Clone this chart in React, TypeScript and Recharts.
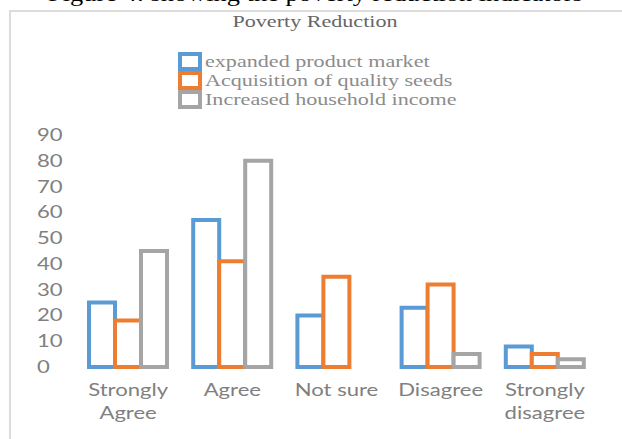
import { BarChart, Bar, XAxis, YAxis, Legend } from "recharts";

const categories = ["Strongly\nAgree", "Agree", "Not sure", "Disagree", "Strongly\ndisagree"];
const expandedMarket = [25, 57, 20, 23, 8];
const qualitySeeds = [18, 41, 35, 32, 5];
const householdIncome = [45, 80, 0, 5, 3];
const yTicks = [0, 10, 20, 30, 40, 50, 60, 70, 80, 90];

const seriesNames = [
  "expanded product market",
  "Acquisition of quality seeds",
  "Increased household income",
];
const seriesColors = ["#5b9bd5", "#ed7d31", "#a5a5a5"];

const data = categories.map((category, i) => ({
  category,
  market: expandedMarket[i],
  seeds: qualitySeeds[i],
  income: householdIncome[i],
}));

const AXIS_FONT = "Lato, 'Open Sans', sans-serif";
const SERIF = "'Liberation Serif', 'DejaVu Serif', serif";
const STRETCH = 1.3;

function XTick({ x, y, payload }: any) {
  const lines = String(payload.value).split("\n");
  return (
    <g transform={`translate(${x},${y})`}>
      <text
        textAnchor="middle"
        fill="#808080"
        fontSize={17}
        fontFamily={AXIS_FONT}
        transform={`scale(${STRETCH},1)`}
      >
        {lines.map((line, i) => (
          <tspan key={i} x={0} dy={i === 0 ? 29 : 23}>
            {line}
          </tspan>
        ))}
      </text>
    </g>
  );
}

function YTick({ x, y, payload }: any) {
  return (
    <g transform={`translate(${x},${y})`}>
      <text
        textAnchor="start"
        dy={6}
        fill="#808080"
        fontSize={17}
        fontFamily={AXIS_FONT}
        transform={`scale(${STRETCH},1)`}
      >
        {payload.value}
      </text>
    </g>
  );
}

function LegendBox({ payload }: any) {
  // keep the series order, recharts sorts the payload by name
  const items = [...(payload ?? [])].sort(
    (a: any, b: any) => seriesNames.indexOf(a.value) - seriesNames.indexOf(b.value)
  );
  return (
    <div>
      {items.map((item: any) => (
        <div key={item.value} style={{ display: "flex", alignItems: "center", height: 19 }}>
          <div
            style={{
              boxSizing: "border-box",
              width: 24,
              height: 19,
              border: `4px solid ${seriesColors[seriesNames.indexOf(item.value)]}`,
              background: "#fff",
            }}
          />
          <span
            style={{
              marginLeft: 3,
              fontFamily: SERIF,
              fontSize: 17,
              lineHeight: "19px",
              color: "#8c8c8c",
              whiteSpace: "nowrap",
              display: "inline-block",
              transform: `scaleX(${STRETCH})`,
              transformOrigin: "left center",
            }}
          >
            {item.value}
          </span>
        </div>
      ))}
    </div>
  );
}

export default function App() {
  return (
    <div
      style={{
        position: "absolute",
        left: 0,
        top: 0,
        width: 622,
        height: 439,
        overflow: "hidden",
        background: "#fff",
      }}
    >
      <svg width={622} height={439} style={{ position: "absolute", left: 0, top: 0 }}>
        <text
          x={48}
          y={1}
          fontFamily={SERIF}
          fontSize={22}
          fill="#000"
          transform={`translate(48,0) scale(1.2,1) translate(-48,0)`}
        >
          Figure 4: showing the poverty reduction indicators
        </text>
        <rect x={10} y={11} width={700} height={600} fill="none" stroke="#dcdcdc" strokeWidth={2} />
        <text
          x={315}
          y={27}
          textAnchor="middle"
          fontFamily={SERIF}
          fontSize={17}
          fill="#666666"
          transform={`translate(315,0) scale(${STRETCH},1) translate(-315,0)`}
        >
          Poverty Reduction
        </text>
      </svg>
      <div style={{ position: "absolute", left: 0, top: 0 }}>
        <BarChart
          width={622}
          height={439}
          data={data}
          margin={{ top: 135, right: 25, bottom: 42, left: 10 }}
          barGap={0}
          barSize={26}
        >
          <XAxis
            dataKey="category"
            height={30}
            axisLine={false}
            tickLine={false}
            tickSize={0}
            tickMargin={0}
            interval={0}
            tick={<XTick />}
          />
          <YAxis
            width={66}
            domain={[0, 90]}
            ticks={yTicks}
            axisLine={false}
            tickLine={false}
            tickSize={0}
            tickMargin={39}
            interval={0}
            tick={<YTick />}
          />
          <Legend
            layout="vertical"
            verticalAlign="middle"
            align="center"
            content={<LegendBox />}
            wrapperStyle={{ position: "absolute", left: 178, top: 52, width: 320 }}
          />
          <Bar
            dataKey="market"
            name={seriesNames[0]}
            fill="#fff"
            stroke={seriesColors[0]}
            strokeWidth={4}
            isAnimationActive={false}
          />
          <Bar
            dataKey="seeds"
            name={seriesNames[1]}
            fill="#fff"
            stroke={seriesColors[1]}
            strokeWidth={4}
            isAnimationActive={false}
          />
          <Bar
            dataKey="income"
            name={seriesNames[2]}
            fill="#fff"
            stroke={seriesColors[2]}
            strokeWidth={4}
            isAnimationActive={false}
          />
        </BarChart>
      </div>
    </div>
  );
}
